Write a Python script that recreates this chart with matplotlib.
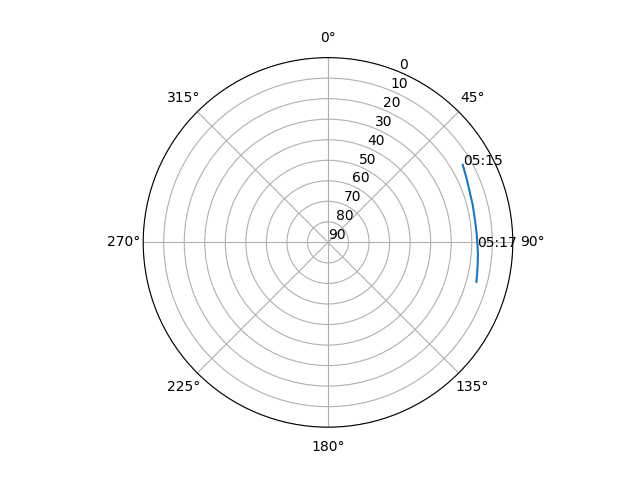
import numpy as np
import matplotlib.pyplot as plt

# satellite track
azimuth = [60.1, 64.5, 69.0, 75.5, 82.0, 86.5, 91.8, 95.0, 98.5, 101.8, 104.9]
elevation = [14.3, 15.5, 16.5, 17.2, 17.6, 17.5, 17.1, 16.7, 16.3, 15.8, 15.2]
labels = {0: "05:15", 6: "05:17"}

fig = plt.figure(figsize=(6.4, 4.8), dpi=100)
ax = fig.add_subplot(111, projection='polar')
ax.set_theta_zero_location('N')
ax.set_theta_direction(-1)

theta = np.radians(azimuth)
ax.plot(theta, elevation)
for i, txt in labels.items():
    ax.text(theta[i], elevation[i], txt)

ax.set_ylim(90, 0)
ax.set_yticks(range(0, 91, 10))

fig.savefig("out.png")
